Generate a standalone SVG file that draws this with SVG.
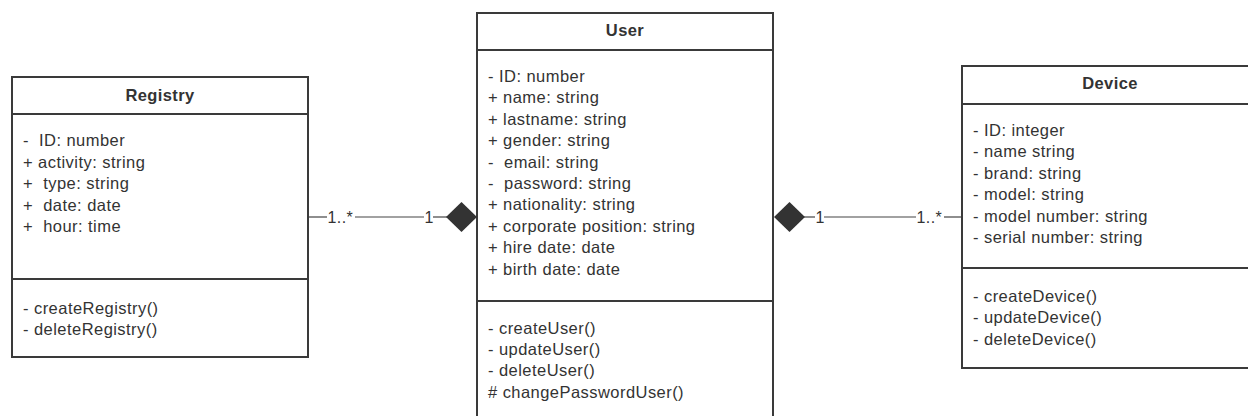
<svg xmlns="http://www.w3.org/2000/svg" width="1248" height="416" viewBox="0 0 1248 416">
<style>
.box{fill:#fff;stroke:#3a3a3a;stroke-width:2}
.sep{stroke:#3a3a3a;stroke-width:2}
.title{font-family:"Liberation Sans",Arial,sans-serif;font-size:16.5px;font-weight:bold;fill:#333;text-anchor:middle;letter-spacing:0.4px}
.t{font-family:"Liberation Sans",Arial,sans-serif;font-size:16.5px;fill:#333;letter-spacing:0.45px}
.lbl{font-family:"Liberation Sans",Arial,sans-serif;font-size:16px;fill:#333;letter-spacing:0.4px}
.ln{stroke:#444;stroke-width:1.2;fill:none}
.dia{fill:#333;stroke:none}
</style>
<rect width="1248" height="416" fill="#fff"/>
<g id="registry">
<rect class="box" x="12" y="77" width="296" height="280"/>
<line class="sep" x1="12" y1="114" x2="308" y2="114"/>
<line class="sep" x1="12" y1="279" x2="308" y2="279"/>
<text class="title" x="160" y="101">Registry</text>
<text class="t" x="23" y="146" xml:space="preserve">-  ID: number</text>
<text class="t" x="23" y="167.5">+ activity: string</text>
<text class="t" x="23" y="189" xml:space="preserve">+  type: string</text>
<text class="t" x="23" y="210.5" xml:space="preserve">+  date: date</text>
<text class="t" x="23" y="232" xml:space="preserve">+  hour: time</text>
<text class="t" x="23" y="314">- createRegistry()</text>
<text class="t" x="23" y="335">- deleteRegistry()</text>
</g>
<g id="user">
<rect class="box" x="477" y="13" width="296" height="420"/>
<line class="sep" x1="477" y1="50" x2="773" y2="50"/>
<line class="sep" x1="477" y1="301" x2="773" y2="301"/>
<text class="title" x="625" y="36">User</text>
<text class="t" x="488" y="82">- ID: number</text>
<text class="t" x="488" y="103.4">+ name: string</text>
<text class="t" x="488" y="124.8">+ lastname: string</text>
<text class="t" x="488" y="146.2">+ gender: string</text>
<text class="t" x="488" y="167.6" xml:space="preserve">-  email: string</text>
<text class="t" x="488" y="189" xml:space="preserve">-  password: string</text>
<text class="t" x="488" y="210.4">+ nationality: string</text>
<text class="t" x="488" y="231.8">+ corporate position: string</text>
<text class="t" x="488" y="253.2">+ hire date: date</text>
<text class="t" x="488" y="274.6">+ birth date: date</text>
<text class="t" x="488" y="333.5">- createUser()</text>
<text class="t" x="488" y="354.9">- updateUser()</text>
<text class="t" x="488" y="376.3">- deleteUser()</text>
<text class="t" x="488" y="397.7"># changePasswordUser()</text>
</g>
<g id="device">
<rect class="box" x="962" y="66" width="296" height="302"/>
<line class="sep" x1="962" y1="104" x2="1258" y2="104"/>
<line class="sep" x1="962" y1="268" x2="1258" y2="268"/>
<text class="title" x="1110" y="89">Device</text>
<text class="t" x="973" y="136">- ID: integer</text>
<text class="t" x="973" y="157.4">- name string</text>
<text class="t" x="973" y="178.8">- brand: string</text>
<text class="t" x="973" y="200.2">- model: string</text>
<text class="t" x="973" y="221.6">- model number: string</text>
<text class="t" x="973" y="243">- serial number: string</text>
<text class="t" x="973" y="302">- createDevice()</text>
<text class="t" x="973" y="323.4">- updateDevice()</text>
<text class="t" x="973" y="344.8">- deleteDevice()</text>
</g>
<g id="connectors">
<g id="registry-user">
<line class="ln" x1="309" y1="217" x2="327" y2="217"/>
<line class="ln" x1="355" y1="217" x2="424" y2="217"/>
<line class="ln" x1="433" y1="217" x2="447" y2="217"/>
<text class="lbl" x="327.5" y="222.5">1..*</text>
<text class="lbl" x="424.5" y="222.5">1</text>
<polygon class="dia" points="446,217 461.5,202 477,217 461.5,232"/>
</g>
<g id="user-device">
<polygon class="dia" points="774,217 789.5,202 805,217 789.5,232"/>
<line class="ln" x1="804" y1="217" x2="815" y2="217"/>
<line class="ln" x1="824" y1="217" x2="916" y2="217"/>
<line class="ln" x1="944" y1="217" x2="961" y2="217"/>
<text class="lbl" x="815.5" y="222.5">1</text>
<text class="lbl" x="916.5" y="222.5">1..*</text>
</g>
</g>
</svg>
